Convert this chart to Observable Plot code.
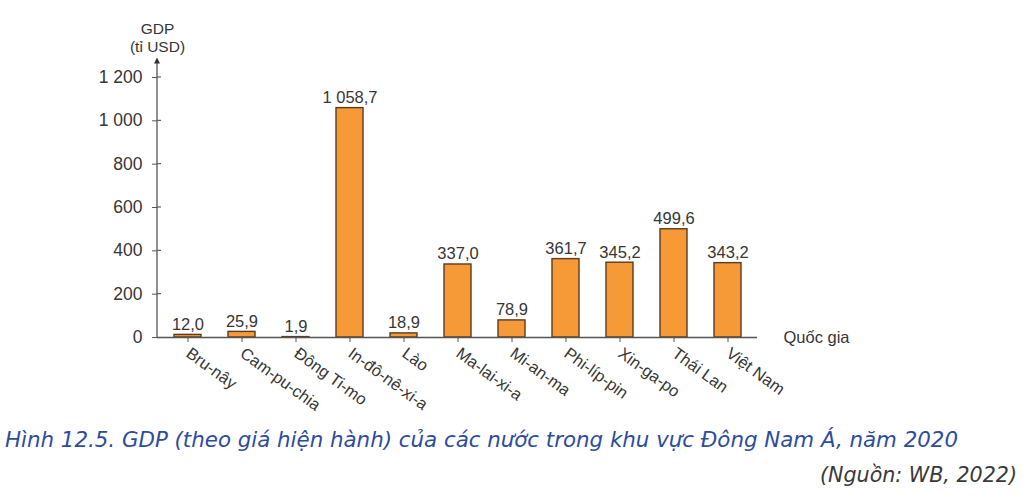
<!DOCTYPE html>
<html><head><meta charset="utf-8">
<script src="https://cdn.jsdelivr.net/npm/d3@7"></script>
<script src="https://cdn.jsdelivr.net/npm/@observablehq/plot@0.6"></script>
<style>
body{margin:0;background:#fff;width:1031px;height:498px;position:relative;overflow:hidden;font-family:"Liberation Sans",Arial,sans-serif}
#chart svg{display:block}
#cap{position:absolute;left:5px;top:427px;font-family:"DejaVu Sans Condensed","Liberation Sans",sans-serif;font-style:italic;font-size:22px;line-height:26px;color:#2d4c9c;white-space:nowrap;transform-origin:0 0}
#src{position:absolute;left:820px;top:462px;font-family:"DejaVu Sans Condensed","Liberation Sans",sans-serif;font-style:italic;font-size:22px;line-height:26px;color:#3a3a3a;white-space:nowrap;transform-origin:0 0}
</style></head>
<body>
<div id="chart"></div>
<div id="cap">Hình 12.5. GDP (theo giá hiện hành) của các nước trong khu vực Đông Nam Á, năm 2020</div>
<div id="src">(Nguồn: WB, 2022)</div>
<script>
const countries = ["Bru-nây","Cam-pu-chia","Đông Ti-mo","In-đô-nê-xi-a","Lào","Ma-lai-xi-a","Mi-an-ma","Phi-líp-pin","Xin-ga-po","Thái Lan","Việt Nam"];
const gdp = [12.0, 25.9, 1.9, 1058.7, 18.9, 337.0, 78.9, 361.7, 345.2, 499.6, 343.2];
const yTicks = [0, 200, 400, 600, 800, 1000, 1200];
const yLabel = ["GDP", "(tỉ USD)"];
const xLabel = "Quốc gia";

const data = countries.map((c, i) => ({country: c, value: gdp[i]}));
const loc = d3.formatLocale({decimal: ",", thousands: " ", grouping: [3], currency: ["", ""]});
const fmt1 = loc.format(",.1f");
const fmt0 = loc.format(",.0f");
const ink = "#363636";

const chart = Plot.plot({
  width: 1031,
  height: 420,
  marginLeft: 157,
  marginRight: 274,
  marginTop: 77,
  marginBottom: 83,
  style: {fontFamily: "'Liberation Sans', Arial, sans-serif", color: ink, background: "#fff", overflow: "visible"},
  x: {domain: countries, paddingInner: 0.5, paddingOuter: 0.22, label: null},
  y: {domain: [0, 1200], label: null},
  marks: [
    Plot.barY(data, {x: "country", y: "value", fill: "#f69a38", stroke: "#5a3b1f", strokeWidth: 1.4}),
    Plot.ruleY([0], {stroke: "#555", strokeWidth: 1.3}),
    Plot.axisX({tickRotate: 36, tickSize: 5, tickPadding: 9, fontSize: 16.5, stroke: "#555", fill: ink, label: null}),
    Plot.axisY({ticks: yTicks, tickFormat: fmt0, tickSize: 5, tickPadding: 10, fontSize: 17.5, stroke: "#555", fill: ink, label: null}),
    Plot.text(data, {x: "country", y: "value", text: d => fmt1(d.value), lineAnchor: "bottom", dy: -5, fontSize: 16.5, fill: ink}),
    Plot.text([yLabel.join("\n")], {frameAnchor: "top-left", dy: -57, lineAnchor: "top", textAnchor: "middle", fontSize: 15.5, lineHeight: 1.2, fill: ink}),
    Plot.text([xLabel], {frameAnchor: "bottom-right", dx: 26, dy: 5, textAnchor: "start", fontSize: 16.5, fill: ink})
  ]
});

// vertical axis line with arrow, and right-side tick extensions, using the plot's y scale
const ys = chart.scale("y");
const svg = d3.select(chart);
const x0 = 157;
svg.append("line").attr("x1", x0).attr("x2", x0)
  .attr("y1", ys.apply(0)).attr("y2", ys.apply(1265))
  .attr("stroke", "#555").attr("stroke-width", 1.3);
svg.append("path")
  .attr("d", `M${x0},${ys.apply(1290)} L${x0-3},${ys.apply(1262)} L${x0+3},${ys.apply(1262)} Z`)
  .attr("fill", "#333");
yTicks.filter(t => t > 0).forEach(t => {
  svg.append("line").attr("x1", x0).attr("x2", x0 + 4)
    .attr("y1", ys.apply(t)).attr("y2", ys.apply(t))
    .attr("stroke", "#555").attr("stroke-width", 1.1);
});
document.getElementById("chart").appendChild(chart);

// fit caption widths to the reference layout
function fit(id, left, width) {
  const el = document.getElementById(id);
  const w = el.getBoundingClientRect().width;
  el.style.left = left + "px";
  el.style.transform = `scaleX(${width / w})`;
}
fit("cap", 5, 953);
fit("src", 820, 197);
</script>
</body></html>
